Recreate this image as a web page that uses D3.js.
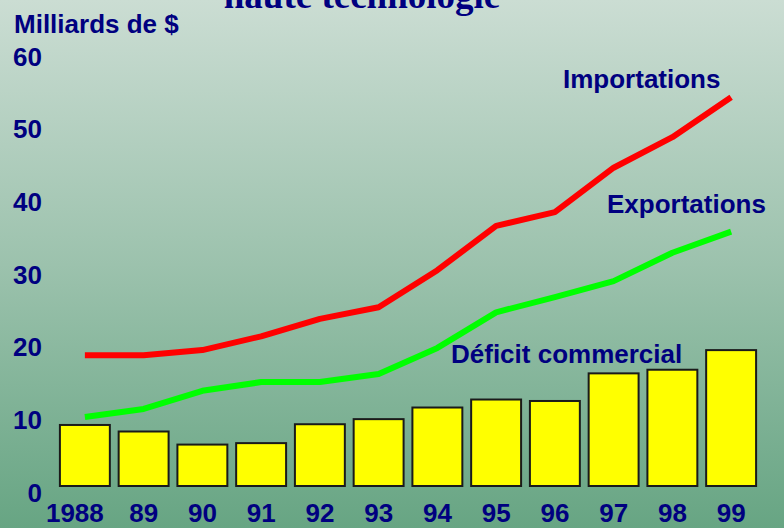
<!DOCTYPE html>
<html>
<head>
<meta charset="utf-8">
<script src="https://cdn.jsdelivr.net/npm/d3@7"></script>
<style>
  html, body { margin: 0; padding: 0; background: #fff; }
  svg { display: block; }
</style>
</head>
<body>
<svg id="chart" width="784" height="528"></svg>
<script>
const years = ["1988", "89", "90", "91", "92", "93", "94", "95", "96", "97", "98", "99"];
const importations = [18.0, 18.0, 18.7, 20.6, 23.0, 24.6, 29.7, 35.8, 37.7, 43.8, 48.0, 53.5];
const exportations = [9.5, 10.6, 13.1, 14.3, 14.3, 15.4, 19.0, 23.9, 26.0, 28.2, 32.1, 35.0];
const deficit = [8.4, 7.5, 5.7, 5.9, 8.5, 9.2, 10.8, 11.9, 11.7, 15.5, 16.0, 18.7];
const yTicks = [0, 10, 20, 30, 40, 50, 60];
const titleText = "haute technologie";
const yAxisTitle = "Milliards de $";
const seriesLabels = ["Importations", "Exportations", "Déficit commercial"];

const svg = d3.select("#chart");
const W = 784, H = 528;
const navy = "#000080";
const sans = "'Liberation Sans', Arial, sans-serif";

// background gradient
const defs = svg.append("defs");
const grad = defs.append("linearGradient").attr("id", "bg")
  .attr("x1", 0).attr("y1", 0).attr("x2", 0).attr("y2", 1);
grad.append("stop").attr("offset", "0%").attr("stop-color", "#cbddd3");
grad.append("stop").attr("offset", "50%").attr("stop-color", "#9cc2ad");
grad.append("stop").attr("offset", "100%").attr("stop-color", "#67a583");
svg.append("rect").attr("width", W).attr("height", H).attr("fill", "url(#bg)");

const x = d3.scaleBand().domain(years).range([55.5, 760.5]).paddingInner(0.15).paddingOuter(0.075);
const y = d3.scaleLinear().domain([0, 60]).range([486, 50]);
const cx = d => x(d) + x.bandwidth() / 2;

// title (partially cut at top, as in the original slide)
svg.append("text").attr("x", 362).attr("y", 8)
  .attr("text-anchor", "middle")
  .style("font-family", "'Liberation Serif', 'Times New Roman', serif")
  .style("font-weight", "bold").style("font-size", "37px")
  .attr("fill", navy).text(titleText);

svg.append("text").attr("x", 14).attr("y", 33)
  .style("font-family", sans).style("font-weight", "bold").style("font-size", "26px")
  .attr("fill", navy).text(yAxisTitle);

// y axis
const yAxis = svg.append("g").attr("transform", "translate(42,0)")
  .call(d3.axisLeft(y).tickValues(yTicks).tickSize(0).tickPadding(0).tickFormat(d3.format("d")));
yAxis.select(".domain").remove();
yAxis.selectAll("text").attr("dy", 15)
  .style("font-family", sans).style("font-weight", "bold").style("font-size", "26px")
  .attr("fill", navy);

// x axis
const xAxis = svg.append("g").attr("transform", "translate(0,486)")
  .call(d3.axisBottom(x).tickSize(0));
xAxis.select(".domain").remove();
xAxis.selectAll("text").attr("y", 36).attr("dy", 0)
  .attr("dx", (d, i) => i === 0 ? -10 : 0)
  .style("font-family", sans).style("font-weight", "bold").style("font-size", "26px")
  .attr("fill", navy);

// bars
svg.append("g").selectAll("rect").data(years).join("rect")
  .attr("x", d => x(d))
  .attr("y", (d, i) => y(deficit[i]))
  .attr("width", x.bandwidth())
  .attr("height", (d, i) => y(0) - y(deficit[i]))
  .attr("fill", "#ffff00")
  .attr("stroke", "#1a1a1a")
  .attr("stroke-width", 2);

// lines
const line = d3.line().x((d, i) => cx(years[i])).y(d => y(d));
svg.append("path").datum(importations).attr("d", line)
  .attr("fill", "none").attr("stroke", "#ff0000").attr("stroke-width", 6)
  .attr("stroke-linejoin", "round");
svg.append("path").datum(exportations).attr("d", line)
  .attr("fill", "none").attr("stroke", "#00ff00").attr("stroke-width", 6)
  .attr("stroke-linejoin", "round");

// series labels
const labelPos = [[563, 88], [607, 213], [451, 363]];
svg.append("g").selectAll("text").data(seriesLabels).join("text")
  .attr("x", (d, i) => labelPos[i][0]).attr("y", (d, i) => labelPos[i][1])
  .style("font-family", sans).style("font-weight", "bold").style("font-size", "26px")
  .attr("fill", navy).text(d => d);
</script>
</body>
</html>
